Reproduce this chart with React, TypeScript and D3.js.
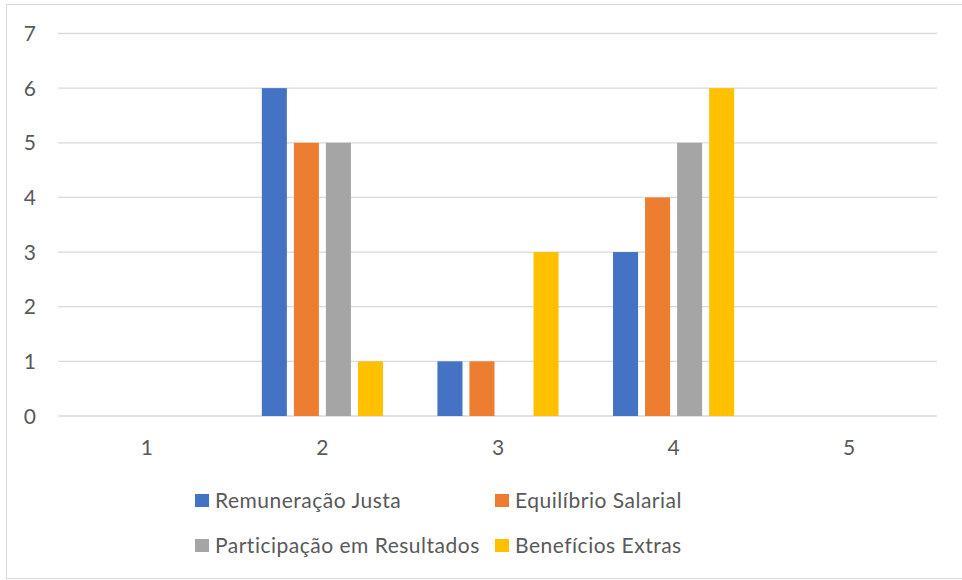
import React from "react";
import * as d3 from "d3";

const categories = ["1", "2", "3", "4", "5"];
const seriesNames = [
  "Remuneração Justa",
  "Equilíbrio Salarial",
  "Participação em Resultados",
  "Benefícios Extras",
];
const remuneracaoJusta = [0, 6, 1, 3, 0];
const equilibrioSalarial = [0, 5, 1, 4, 0];
const participacaoResultados = [0, 5, 0, 5, 0];
const beneficiosExtras = [0, 1, 3, 6, 0];
const yTicks = [0, 1, 2, 3, 4, 5, 6, 7];
const colors = ["#4472C4", "#ED7D31", "#A5A5A5", "#FFC000"];

const seriesValues = [remuneracaoJusta, equilibrioSalarial, participacaoResultados, beneficiosExtras];

const W = 962;
const H = 580;
const plot = { left: 59, right: 937, top: 33.5, bottom: 416 };
const FONT = "Lato, 'Open Sans', sans-serif";
const TEXT = "#595959";

export default function App() {
  const x = d3.scaleBand<string>().domain(categories).range([plot.left, plot.right]).paddingInner(0).paddingOuter(0);
  const y = d3.scaleLinear().domain([0, 7]).range([plot.bottom, plot.top]);
  // four bars per category, with a small gap between neighbouring bars
  const inner = d3
    .scaleBand<number>()
    .domain(d3.range(seriesNames.length))
    .range([0, x.bandwidth()])
    .paddingInner(0.21875)
    .paddingOuter(0.85);

  const legend = [
    { i: 0, x: 195, y: 500.5 },
    { i: 1, x: 495, y: 500.5 },
    { i: 2, x: 195, y: 545.5 },
    { i: 3, x: 495, y: 545.5 },
  ];

  return (
    <svg
      width={W}
      height={H}
      style={{ position: "absolute", left: 0, top: 0, background: "#fff" }}
      fontFamily={FONT}
    >
      <rect x={6.5} y={4.5} width={W} height={574} fill="#fff" stroke="#d9d9d9" strokeWidth={1} />
      {yTicks.map((t) => (
        <g key={t}>
          <line x1={plot.left - 1} x2={plot.right} y1={y(t)} y2={y(t)} stroke="#d9d9d9" strokeWidth={1.3} />
          <text x={36} y={y(t)} dy="0.36em" textAnchor="end" fontSize={21} fill={TEXT}>
            {t}
          </text>
        </g>
      ))}
      {categories.map((c, ci) => (
        <g key={c}>
          {seriesValues.map((vals, si) =>
            vals[ci] > 0 ? (
              <rect
                key={si}
                x={(x(c) as number) + (inner(si) as number)}
                y={y(vals[ci])}
                width={inner.bandwidth()}
                height={y(0) - y(vals[ci])}
                fill={colors[si]}
              />
            ) : null
          )}
          <text
            x={(x(c) as number) + x.bandwidth() / 2}
            y={447}
            dy="0.36em"
            textAnchor="middle"
            fontSize={21}
            fill={TEXT}
          >
            {c}
          </text>
        </g>
      ))}
      {legend.map((l) => (
        <g key={l.i}>
          <rect x={l.x} y={l.y - 6.5} width={14} height={13} fill={colors[l.i]} />
          <text x={l.x + 20} y={l.y} dy="0.36em" fontSize={21} letterSpacing={0.5} fill={TEXT}>
            {seriesNames[l.i]}
          </text>
        </g>
      ))}
    </svg>
  );
}
